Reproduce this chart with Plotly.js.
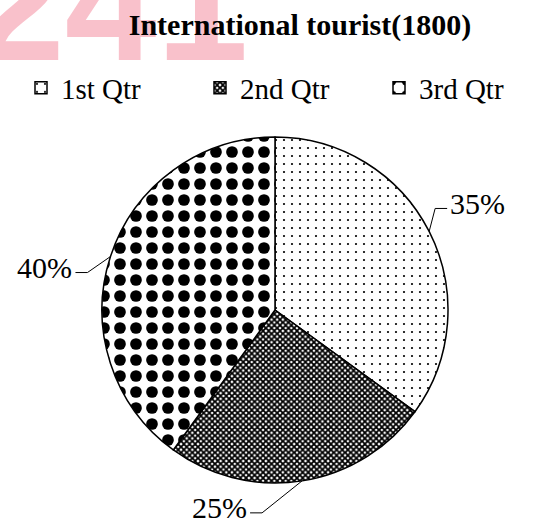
<!DOCTYPE html>
<html>
<head>
<meta charset="utf-8">
<script src="https://cdn.plot.ly/plotly-3.0.1.min.js"></script>
<style>html,body{margin:0;padding:0;background:#fff;}#chart{width:538px;height:522px;}</style>
</head>
<body>
<div id="chart"></div>
<script>
// ---- data ----
const categories = ['1st Qtr', '2nd Qtr', '3rd Qtr'];
const values = [35, 25, 40];
const chartTitle = 'International tourist(1800)';
const watermarkText = '241';

// ---- layout constants ----
const W = 538, H = 522;
const M = {l: 30, r: 0, t: 137, b: 39};
const pw = W - M.l - M.r, ph = H - M.t - M.b;
const pieCenterX = 275;                 // px
const R = ph / 2;                        // pie radius in px
const cx = pieCenterX, cy = M.t + ph / 2;
const domX = [(pieCenterX - R - M.l) / pw, (pieCenterX + R - M.l) / pw];
const serif = 'Liberation Serif, Times New Roman, serif';

// leader-line elbow offsets (px) and horizontal tail length, per slice
const elbowOffset = [[6, -23], [-40, 32], [-23, 16]];
const tailLen = [12, -12, -12];

const toX = px => (px - M.l) / pw;
const toY = py => 1 - (py - M.t) / ph;

const total = values.reduce((a, b) => a + b, 0);
const annotations = [];
const shapes = [];
let cum = 0;
values.forEach((v, i) => {
  const mid = (cum + v / 2) / total * 2 * Math.PI;
  cum += v;
  const ex = cx + R * Math.sin(mid), ey = cy - R * Math.cos(mid);
  const bx = ex + elbowOffset[i][0], by = ey + elbowOffset[i][1];
  const tx = bx + tailLen[i];
  shapes.push({
    type: 'path', xref: 'paper', yref: 'paper',
    path: `M${toX(ex)},${toY(ey)} L${toX(bx)},${toY(by)} L${toX(tx)},${toY(by)}`,
    line: {color: '#000', width: 1}
  });
  annotations.push({
    xref: 'paper', yref: 'paper', x: toX(tx + (tailLen[i] > 0 ? 1 : -1)), y: toY(by),
    xanchor: tailLen[i] > 0 ? 'left' : 'right', yanchor: 'middle', yshift: 5,
    text: Math.round(v / total * 100) + '%', showarrow: false,
    font: {family: serif, size: 30, color: '#000'}
  });
});

// watermark (index 0)
annotations.unshift({
  xref: 'paper', yref: 'paper', x: toX(-29), y: toY(3),
  xanchor: 'left', yanchor: 'middle', showarrow: false,
  text: '<b>' + watermarkText + '</b>',
  font: {family: 'Liberation Sans, Arial, sans-serif', size: 165, color: '#F9C1CB'}
});

const trace = {
  type: 'pie',
  labels: categories,
  values: values,
  sort: false,
  direction: 'clockwise',
  rotation: 0,
  textinfo: 'none',
  hoverinfo: 'none',
  domain: {x: domX, y: [0, 1]},
  marker: {
    colors: ['#ffffff', '#ffffff', '#ffffff'],
    line: {color: '#000', width: 1.5},
    pattern: {
      shape: ['.', 'x', '.'],
      size: [8, 4, 16],
      solidity: [0.06, 0.7, 0.42],
      fgcolor: '#000',
      bgcolor: '#ffffff',
      fillmode: 'replace'
    }
  }
};

const layout = {
  width: W, height: H,
  margin: {l: M.l, r: M.r, t: M.t, b: M.b, autoexpand: false},
  paper_bgcolor: '#fff',
  font: {family: serif, color: '#000'},
  title: {
    text: '<b>' + chartTitle + '</b>',
    xref: 'container', yref: 'container',
    x: 300 / W, y: 1 - 24 / H, xanchor: 'center', yanchor: 'middle',
    font: {family: serif, size: 30, color: '#000'}
  },
  showlegend: true,
  legend: {
    orientation: 'h',
    xref: 'paper', yref: 'paper',
    x: toX(21), y: toY(88),
    xanchor: 'left', yanchor: 'middle',
    entrywidth: 134,
    font: {family: serif, size: 29, color: '#000'},
    bgcolor: 'rgba(0,0,0,0)'
  },
  annotations: annotations,
  shapes: shapes
};

const gd = document.getElementById('chart');
Plotly.newPlot(gd, [trace], layout, {displayModeBar: false, staticPlot: true}).then(() => {
  // keep the watermark behind the title text
  const ann = gd.querySelector('.annotation[data-index="0"]');
  const ttl = gd.querySelector('.g-gtitle');
  if (ann && ttl) ttl.parentNode.insertBefore(ann, ttl);
});
</script>
</body>
</html>
